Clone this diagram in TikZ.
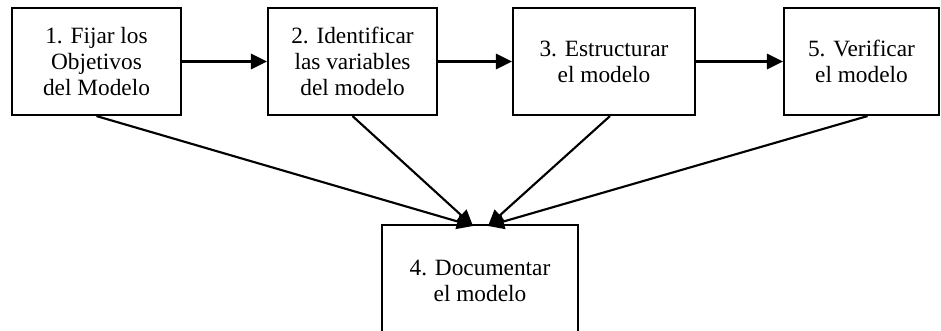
\documentclass[tikz,border=0pt]{standalone}
\usepackage{fontspec}
\setmainfont{Liberation Serif}
\usetikzlibrary{arrows.meta}

\tikzset{
    stepbox/.style={draw, line width=1.6pt, align=center, inner sep=0pt,
        minimum height=80.25pt, font=\fontsize{17.5}{19.5}\selectfont},
    flow/.style={line width=1.6pt, -{Triangle[length=12pt,width=11.5pt]}}
}

\begin{document}
\begin{tikzpicture}[x=0.75pt,y=-0.75pt]
    \useasboundingbox (0,0) rectangle (941,331);

    % draw steps
    \node[stepbox, minimum width=126.75pt] (obj) at (96.5,61.5) {1. Fijar los\\Objetivos\\del Modelo};
    \node[stepbox, minimum width=126.75pt] (var) at (352.5,61.5) {2. Identificar\\las variables\\del modelo};
    \node[stepbox, minimum width=136.5pt] (est) at (604,61.5) {3. Estructurar\\el modelo};
    \node[stepbox, minimum width=116.25pt] (ver) at (861.5,61.5) {5. Verificar\\el modelo};
    \node[stepbox, minimum width=147pt, minimum height=83.25pt] (doc) at (480,280.5) {4. Documentar\\el modelo};

    % arrow ends on top of doc
    \coordinate (docL) at (473,226);
    \coordinate (docR) at (488,226);

    % draw horizontal arrows
    \draw[flow] (obj) -- (var);
    \draw[flow] (var) -- (est);
    \draw[flow] (est) -- (ver);

    % draw arrows to doc
    \draw[flow] (obj.south) -- (docL);
    \draw[flow] (var.south) -- (docL);
    \draw[flow] ([xshift=4.5pt]est.south) -- (docR);
    \draw[flow] ([xshift=4.5pt]ver.south) -- (docR);
\end{tikzpicture}
\end{document}
